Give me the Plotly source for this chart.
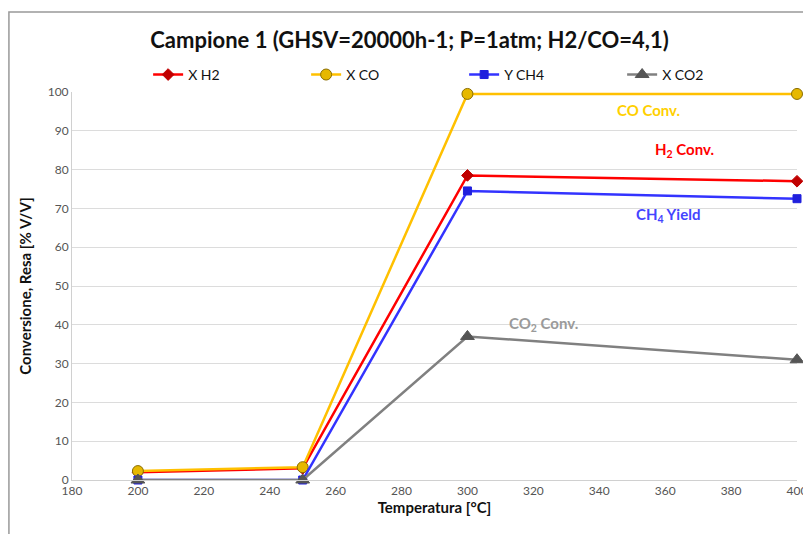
import plotly.graph_objects as go

temperatures = [200, 250, 300, 400]
x_h2 = [2.0, 3.0, 78.5, 77.0]
x_co = [2.3, 3.3, 99.5, 99.5]
y_ch4 = [0.0, 0.0, 74.5, 72.5]
x_co2 = [0.0, 0.0, 37.0, 31.0]

series = [
    ("X H2", x_h2, "#ff0000", "diamond", "#c00000", 9),
    ("X CO", x_co, "#ffc000", "circle", "#e6b800", 11),
    ("Y CH4", y_ch4, "#3333ff", "square", "#2020dd", 8),
    ("X CO2", x_co2, "#808080", "triangle-up", "#555555", 12),
]

fig = go.Figure()
for name, vals, col, sym, mcol, ms in series:
    fig.add_trace(go.Scatter(
        x=temperatures, y=vals, name=name, mode="lines+markers",
        line=dict(color=col, width=2.5),
        marker=dict(symbol=sym, size=ms, color=mcol,
                    line=dict(color="#8a6d00" if sym == "circle" else mcol, width=1)),
        cliponaxis=False,
    ))

ann_font = dict(family="Lato, Open Sans, sans-serif", size=15)
annotations = [
    dict(x=355, y=95.4, text="<b>CO Conv.</b>", color="#ffd000"),
    dict(x=366, y=85, text="<b>H<sub>2</sub> Conv.</b>", color="#ff0000"),
    dict(x=361, y=68.3, text="<b>CH<sub>4</sub> Yield</b>", color="#4444ff"),
    dict(x=323, y=40.3, text="<b>CO<sub>2</sub> Conv.</b>", color="#9a9a9a"),
]
for a in annotations:
    fig.add_annotation(x=a["x"], y=a["y"], text=a["text"], showarrow=False,
                       font=dict(color=a["color"], **ann_font))

fig.update_layout(
    width=803, height=526,
    paper_bgcolor="white", plot_bgcolor="white",
    margin=dict(l=64, r=14, t=84, b=54, autoexpand=False),
    title=dict(text="<b>Campione 1 (GHSV=20000h-1; P=1atm; H2/CO=4,1)</b>",
               x=0.5, xanchor="center", y=0.939, yanchor="middle",
               font=dict(family="Lato, Open Sans, sans-serif", size=22, color="#111111")),
    legend=dict(orientation="h", x=0.105, xanchor="left", y=1.044, yanchor="middle",
                bgcolor="rgba(0,0,0,0)",
                font=dict(family="Lato, Open Sans, sans-serif", size=14, color="#111111"),
                itemwidth=30, tracegroupgap=0, entrywidth=113, entrywidthmode="pixels"),
    font=dict(family="Lato, Open Sans, sans-serif"),
    shapes=[dict(type="rect", xref="paper", yref="paper", x0=-0.087, x1=1.03, y0=-0.2, y1=1.206,
                 line=dict(color="#999999", width=1.5))],
)
fig.update_xaxes(range=[180, 400], dtick=20, tick0=180, showgrid=False, showline=True,
                 linecolor="#d0d0d0", ticks="", zeroline=False,
                 tickfont=dict(size=12, color="#555555"),
                 title=dict(text="<b>Temperatura [°C]</b>", standoff=4,
                            font=dict(size=15, color="#111111")))
fig.update_yaxes(range=[0, 100], dtick=10, showgrid=True, gridcolor="#dcdcdc", showline=True,
                 linecolor="#d0d0d0", ticks="", zeroline=False,
                 tickfont=dict(size=12, color="#555555"),
                 title=dict(text="<b>Conversione, Resa [% V/V]</b>", standoff=12,
                            font=dict(size=15, color="#111111")))
fig.write_html("out.html")
